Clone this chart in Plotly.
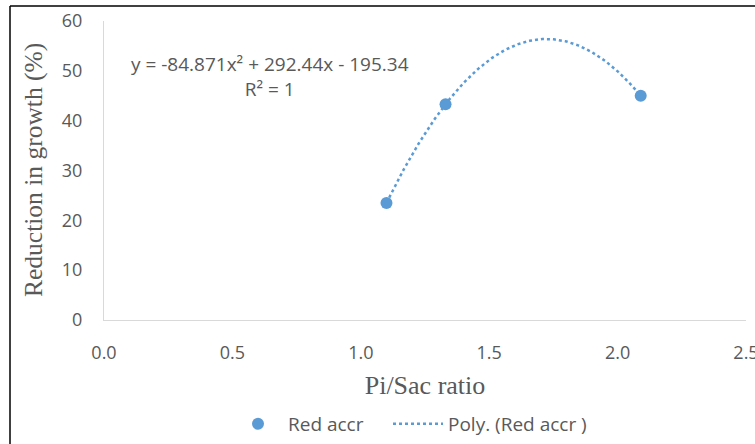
import numpy as np
import plotly.graph_objects as go

# Data
pi_sac_ratio = [1.10, 1.33, 2.09]
reduction_growth = [23.5, 43.3, 45.0]
series_name = "Red accr"
trend_name = "Poly. (Red accr )"
x_ticks = [0.0, 0.5, 1.0, 1.5, 2.0, 2.5]
y_ticks = [0, 10, 20, 30, 40, 50, 60]

# 2nd order polynomial trendline fitted to the data (like the spreadsheet trendline)
coef = np.polyfit(pi_sac_ratio, reduction_growth, 2)
tx = np.linspace(min(pi_sac_ratio), max(pi_sac_ratio), 200)
ty = np.polyval(coef, tx)

blue = "#5B9BD5"
grey = "#595959"

fig = go.Figure()
fig.add_trace(go.Scatter(
    x=pi_sac_ratio, y=reduction_growth, mode="markers", name=series_name,
    marker=dict(color=blue, size=12), legend="legend",
))
fig.add_trace(go.Scatter(
    x=tx, y=ty, mode="lines", name=trend_name,
    line=dict(color=blue, width=2.5, dash="dot"), legend="legend2",
))

W, H = 755, 444
L, R, T, B = 104, 9, 21, 124
pw = W - L - R
ph = H - T - B

leg_common = dict(
    orientation="h", xanchor="left", xref="container", yref="container",
    y=(H - 424) / H, yanchor="middle",
    font=dict(size=19, color=grey), bgcolor="rgba(0,0,0,0)", itemwidth=50,
)

fig.update_layout(
    width=W, height=H,
    margin=dict(l=L, r=R, t=T, b=B, autoexpand=False),
    paper_bgcolor="white", plot_bgcolor="white",
    font=dict(family="Open Sans", color=grey, size=18),
    xaxis=dict(
        range=[0, 2.5], tickvals=x_ticks, ticktext=[f"{v:.1f}" for v in x_ticks],
        showgrid=False, zeroline=False, showline=True, linecolor="#D9D9D9", linewidth=1,
        ticks="", tickfont=dict(size=18, color=grey), ticklabelstandoff=16,
        ticklabeloverflow="allow", automargin=False,
        title=dict(text="Pi/Sac ratio", font=dict(family="Liberation Serif", size=26, color=grey), standoff=13),
    ),
    yaxis=dict(
        range=[0, 60], tickvals=y_ticks,
        showgrid=False, zeroline=False, showline=True, linecolor="#D9D9D9", linewidth=1,
        ticks="", tickfont=dict(size=18, color=grey), ticklabelstandoff=17,
        ticklabeloverflow="allow", automargin=False,
    ),
    legend=dict(x=228 / W, **leg_common),
    legend2=dict(x=388 / W, **leg_common),
    showlegend=True,
)

# y axis title
fig.add_annotation(
    x=(33 - L) / pw, y=(320 - 170) / ph, xref="paper", yref="paper",
    xanchor="center", yanchor="middle", textangle=-90,
    text="Reduction in growth (%)", showarrow=False,
    font=dict(family="Liberation Serif", size=25.5, color=grey),
)

fig.add_annotation(
    x=(270 - L) / pw, y=(320 - 76.5) / ph, xref="paper", yref="paper",
    xanchor="center", yanchor="middle",
    text="y = -84.871x² + 292.44x - 195.34<br>R² = 1",
    showarrow=False, align="center", font=dict(size=19, color=grey),
)

# outer frame lines (top and left)
fig.add_shape(type="line", xref="paper", yref="paper",
              x0=(10 - L) / pw, x1=(W + 5 - L) / pw, y0=(320 - 6) / ph, y1=(320 - 6) / ph,
              line=dict(color="black", width=1.5))
fig.add_shape(type="line", xref="paper", yref="paper",
              x0=(10 - L) / pw, x1=(10 - L) / pw, y0=(320 - 6) / ph, y1=(320 - H - 5) / ph,
              line=dict(color="black", width=1.5))

fig.write_html("out.html", config={"displayModeBar": False},
               post_script="document.body.style.margin='0';")
